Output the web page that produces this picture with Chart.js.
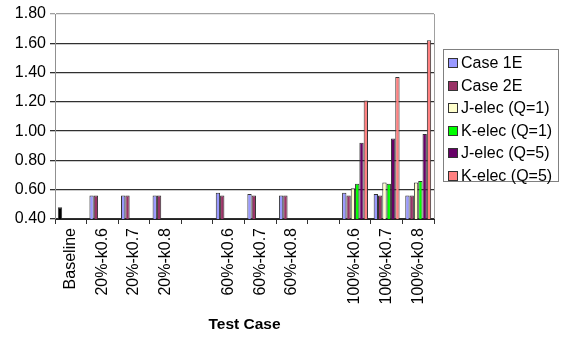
<!DOCTYPE html>
<html>
<head>
<meta charset="utf-8">
<script src="https://cdn.jsdelivr.net/npm/chart.js@4"></script>
<style>
  body { margin: 0; background: #fff; }
  #wrap { position: relative; width: 561px; height: 341px; }
  #legend {
    position: absolute; left: 443px; top: 49px; width: 116px; height: 133px;
    border: 1px solid #808080; box-sizing: border-box; padding: 2px 0 0 4px;
    font: 16px "Liberation Sans", Arial, sans-serif; color: #000;
  }
  #legend div { height: 22.6px; line-height: 22.6px; white-space: nowrap; }
  #legend span {
    display: inline-block; width: 8px; height: 8px; border: 1px solid #333;
    margin-right: 3px; vertical-align: 0px;
  }
</style>
</head>
<body>
<div id="wrap">
  <canvas id="myChart" width="561" height="341"></canvas>
  <div id="legend"></div>
</div>
<script>
const categories = ["Baseline", "20%-k0.6", "20%-k0.7", "20%-k0.8", "",
  "60%-k0.6", "60%-k0.7", "60%-k0.8", "",
  "100%-k0.6", "100%-k0.7", "100%-k0.8"];

const case1E   = [0.48, 0.56, 0.56, 0.56, null, 0.58, 0.57, 0.56, null, 0.58, 0.57, 0.56];
const case2E   = [null, 0.56, 0.56, 0.56, null, 0.56, 0.56, 0.56, null, 0.56, 0.56, 0.56];
const jElecQ1  = [null, null, null, null, null, null, null, null, null, 0.61, 0.65, 0.65];
const kElecQ1  = [null, null, null, null, null, null, null, null, null, 0.64, 0.64, 0.66];
const jElecQ5  = [null, null, null, null, null, null, null, null, null, 0.92, 0.95, 0.98];
const kElecQ5  = [null, null, null, null, null, null, null, null, null, 1.21, 1.37, 1.62];

const seriesNames = ["Case 1E", "Case 2E", "J-elec (Q=1)", "K-elec (Q=1)", "J-elec (Q=5)", "K-elec (Q=5)"];
const seriesColors = ["#9999FF", "#993366", "#FFFFCC", "#00FF00", "#660066", "#FF8080"];
const yTicks = [0.4, 0.6, 0.8, 1.0, 1.2, 1.4, 1.6, 1.8];

const seriesData = [case1E, case2E, jElecQ1, kElecQ1, jElecQ5, kElecQ5];
const font = "'Liberation Sans', Arial, sans-serif";

const datasets = seriesData.map((d, i) => ({
  label: seriesNames[i],
  data: d,
  // baseline bar is drawn black
  backgroundColor: i === 0 ? d.map((v, j) => j === 0 ? "#000000" : seriesColors[0]) : seriesColors[i],
  borderColor: "#333333",
  borderWidth: 1,
  borderSkipped: "bottom",
  categoryPercentage: 0.82,
  barPercentage: 1.0
}));

const frame = {
  id: "frame",
  afterDraw(chart) {
    const a = chart.chartArea, c = chart.ctx;
    c.save();
    c.strokeStyle = "#a0a0a0";
    c.lineWidth = 1;
    c.beginPath();
    c.moveTo(Math.round(a.right) + 0.5, a.top);
    c.lineTo(Math.round(a.right) + 0.5, a.bottom);
    c.stroke();
    c.restore();
  }
};

new Chart(document.getElementById("myChart").getContext("2d"), {
  type: "bar",
  data: { labels: categories, datasets: datasets },
  plugins: [frame],
  options: {
    responsive: false,
    devicePixelRatio: 1,
    animation: false,
    layout: { padding: { left: 0, right: 127, top: 14, bottom: 0 } },
    plugins: { legend: { display: false }, tooltip: { enabled: false } },
    scales: {
      x: {
        afterFit: s => { s.height = 122; },
        grid: { drawOnChartArea: false, tickLength: 5, color: "#333" },
        border: { color: "#222", width: 1 },
        ticks: {
          minRotation: 90, maxRotation: 90, autoSkip: false, padding: 4,
          color: "#000", font: { family: font, size: 16 }
        },
        title: {
          display: true, text: "Test Case", color: "#000",
          font: { family: font, size: 15.5, weight: "bold" },
          padding: { top: 0, bottom: 7 }
        }
      },
      y: {
        min: 0.4, max: 1.8,
        afterFit: s => { s.width = 55; },
        afterBuildTicks: s => { s.ticks = yTicks.map(v => ({ value: v })); },
        grid: {
          tickLength: 5,
          lineWidth: 1.3,
          color: ctx => (ctx.tick && ctx.tick.value === 1.8) ? "#a0a0a0" : "#303030"
        },
        border: { color: "#909090", width: 1 },
        ticks: {
          padding: 4, color: "#000", font: { family: font, size: 16 },
          callback: v => Number(v).toFixed(2)
        }
      }
    }
  }
});

const leg = document.getElementById("legend");
seriesNames.forEach((n, i) => {
  const row = document.createElement("div");
  row.innerHTML = '<span style="background:' + seriesColors[i] + '"></span>' + n;
  leg.appendChild(row);
});
</script>
</body>
</html>
